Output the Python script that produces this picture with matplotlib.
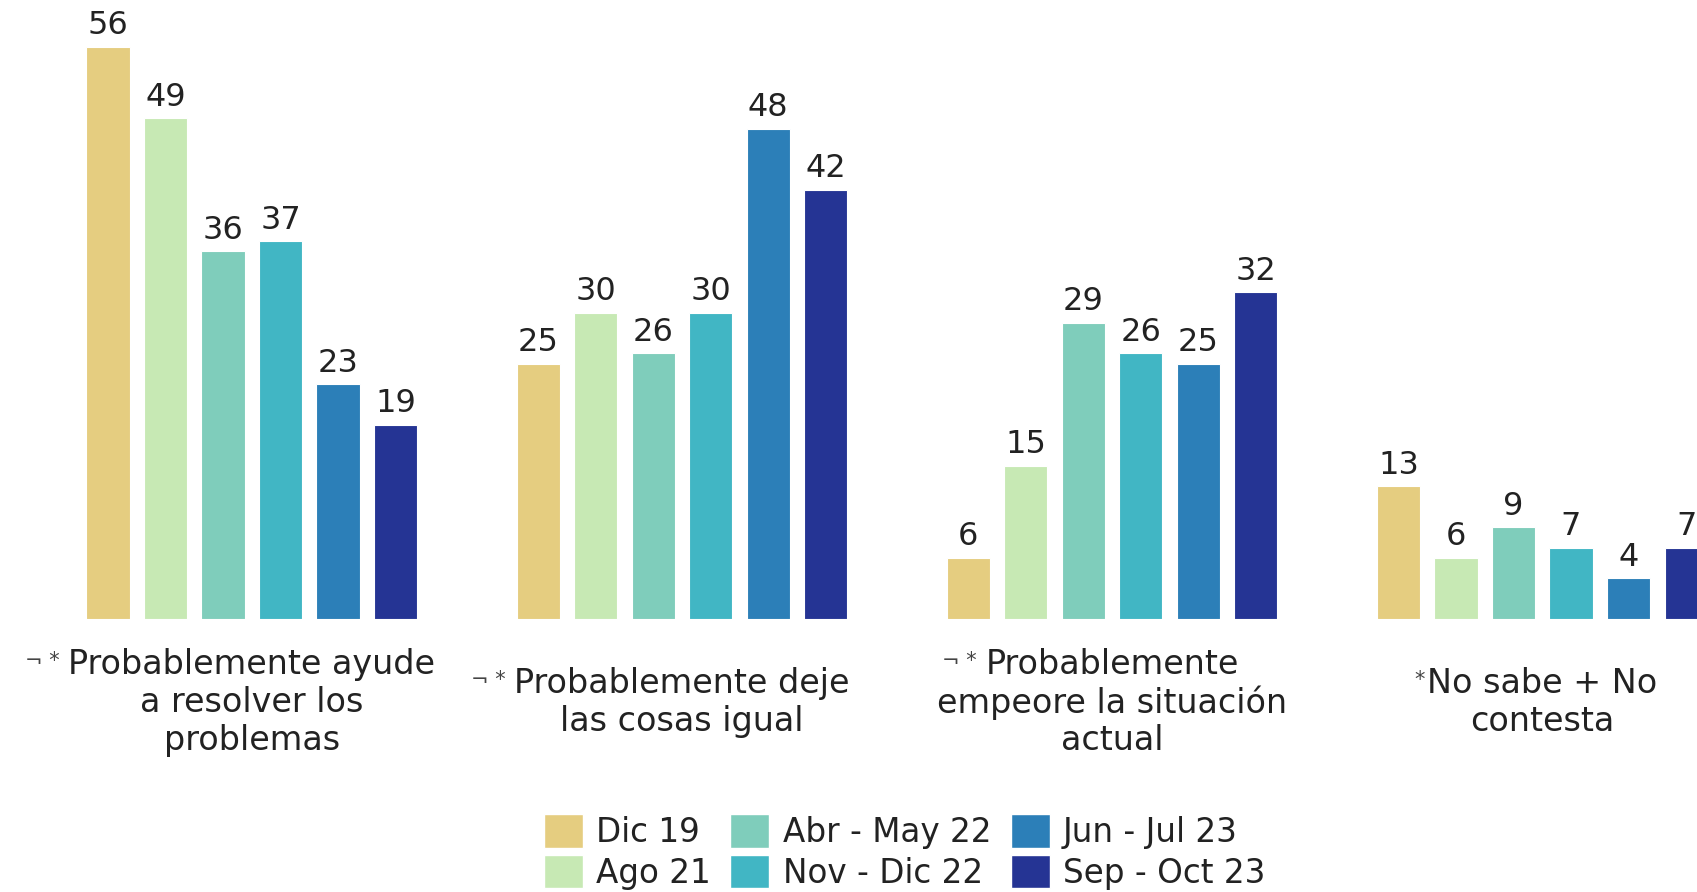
import numpy as np
import matplotlib
matplotlib.use('Agg')
import matplotlib.pyplot as plt
from matplotlib.patches import Patch
import matplotlib.transforms as mtransforms

matplotlib.rcParams['font.family'] = 'DejaVu Sans'

# --- datos ---
categorias = [
    ['Probablemente ayude', 'a resolver los', 'problemas'],
    ['Probablemente deje', 'las cosas igual'],
    ['Probablemente', 'empeore la situación', 'actual'],
    ['No sabe + No', 'contesta'],
]
prefijos = ['¬ * ', '¬ * ', '¬ * ', '*']
periodos = ['Dic 19', 'Ago 21', 'Abr - May 22', 'Nov - Dic 22', 'Jun - Jul 23', 'Sep - Oct 23']
colores = ['#E5CD80', '#C7E9B4', '#7FCDBB', '#41B6C4', '#2C7FB8', '#253494']

dic19 = [56, 25, 6, 13]
ago21 = [49, 30, 15, 6]
abr_may22 = [36, 26, 29, 9]
nov_dic22 = [37, 30, 26, 7]
jun_jul23 = [23, 48, 25, 4]
sep_oct23 = [19, 42, 32, 7]
series = [dic19, ago21, abr_may22, nov_dic22, jun_jul23, sep_oct23]

texto = '#222222'

fig = plt.figure(figsize=(16.97, 8.92), dpi=100)
ax = fig.add_axes([0, 0.306, 1, 0.694])

paso_grupo = 7.48
ancho = 0.75
grupos = np.arange(len(categorias)) * paso_grupo

for i, (vals, col) in enumerate(zip(series, colores)):
    barras = ax.bar(grupos + i, vals, width=ancho, color=col, edgecolor='white', linewidth=0.8)
    ax.bar_label(barras, padding=4, fontsize=23, color=texto)

ax.set_xlim(-1.878, 27.63)
ax.set_ylim(0, 60.6)
ax.axis('off')

# etiquetas de categoria centradas bajo cada grupo
trans = mtransforms.blended_transform_factory(ax.transData, fig.transFigure)
renderer = fig.canvas.get_renderer()
centro_y = 0.212
salto = 38 / 892
centros = grupos + 2.5
for cx, lineas, pre in zip(centros, categorias, prefijos):
    n = len(lineas)
    primera = None
    for k, linea in enumerate(lineas):
        y = centro_y + (n - 1) / 2 * salto - k * salto
        t = ax.text(cx, y, linea, transform=trans, ha='center', va='center',
                    fontsize=24, color=texto)
        if k == 0:
            primera = t
    bb = primera.get_window_extent(renderer)
    x_pix = bb.x0 - 2
    y_pix = bb.y1 - 3
    fig.text(x_pix / fig.dpi / fig.get_figwidth(), y_pix / fig.dpi / fig.get_figheight(),
             pre, ha='right', va='top', fontsize=15, color='#444444')

handles = [Patch(facecolor=c, edgecolor='white') for c in colores]
fig.legend(handles, periodos, loc='center', bbox_to_anchor=(0.533, 0.045), ncol=3,
           frameon=False, fontsize=23.5, handlelength=1.2, handleheight=1.2,
           handletextpad=0.4, columnspacing=0.6, labelspacing=0.18, borderpad=0,
           labelcolor=texto)

fig.savefig('out.png', dpi=100)
